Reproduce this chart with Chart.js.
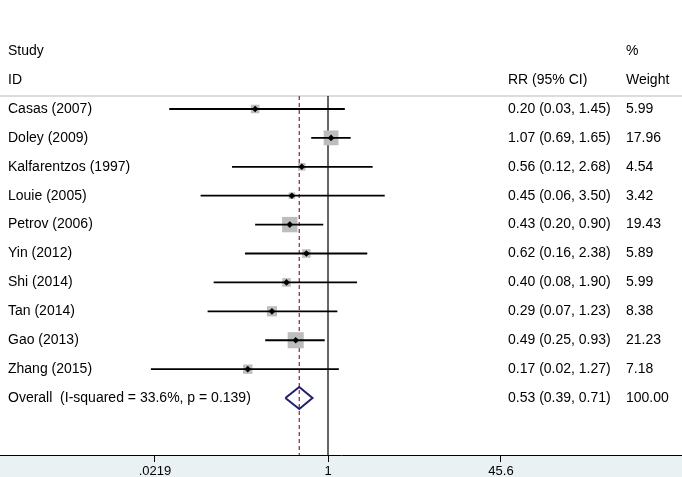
<!DOCTYPE html>
<html><head><meta charset="utf-8">
<script src="https://cdn.jsdelivr.net/npm/chart.js@4"></script>
<style>html,body{margin:0;padding:0;background:#fff;overflow:hidden}</style>
</head><body>
<canvas id="c" width="682" height="477" style="display:block;width:682px;height:477px"></canvas>
<script>
// ---- data ----
const studies = ['Casas (2007)','Doley (2009)','Kalfarentzos (1997)','Louie (2005)','Petrov (2006)','Yin (2012)','Shi (2014)','Tan (2014)','Gao (2013)','Zhang (2015)'];
const rr      = [0.20, 1.07, 0.56, 0.45, 0.43, 0.62, 0.40, 0.29, 0.49, 0.17];
const ciLow   = [0.03, 0.69, 0.12, 0.06, 0.20, 0.16, 0.08, 0.07, 0.25, 0.02];
const ciHigh  = [1.45, 1.65, 2.68, 3.50, 0.90, 2.38, 1.90, 1.23, 0.93, 1.27];
const weights = [5.99, 17.96, 4.54, 3.42, 19.43, 5.89, 5.99, 8.38, 21.23, 7.18];
const overallLabel = 'Overall  (I-squared = 33.6%, p = 0.139)';
const overallRR = 0.53, overallLow = 0.39, overallHigh = 0.71, overallWeight = 100.00;
const tickValues = [0.0219, 1, 45.6];
const tickLabels = ['.0219', '1', '45.6'];
const headerStudy  = ['Study', 'ID'];
const headerCI     = ['', 'RR (95% CI)'];
const headerWeight = ['%', 'Weight'];

// ---- layout constants ----
const X_MIN = Math.exp(-7.244), X_MAX = Math.exp(7.818);
const Y_TOP = -3.77, Y_BOTTOM = 11.97;
const SEP_ROW = -0.45;
const FONT = '"Liberation Sans", Arial, sans-serif';

const nS = studies.length;
const datasets = [];

// separator line
datasets.push({type:'line', data:[{x:X_MIN,y:SEP_ROW},{x:X_MAX,y:SEP_ROW}], borderColor:'#d0d0d0', borderWidth:1.5, pointRadius:0, order:9});
// null line x=1
datasets.push({type:'line', data:[{x:1,y:SEP_ROW},{x:1,y:Y_BOTTOM}], borderColor:'#000', borderWidth:1.2, pointRadius:0, order:8});
// overall dashed line
datasets.push({type:'line', data:[{x:overallRR,y:SEP_ROW},{x:overallRR,y:Y_BOTTOM}], borderColor:'rgb(140,35,55)', borderWidth:1.2, borderDash:[4,3], pointRadius:0, order:7});
// weight boxes
datasets.push({type:'scatter', data: rr.map((v,i)=>({x:v,y:i})), pointStyle:'rect',
  pointRadius: weights.map(w=>2.47*Math.sqrt(w)), backgroundColor:'#bdbdbd', borderWidth:0, order:6});
// CI lines
for (let i=0;i<nS;i++){
  datasets.push({type:'line', data:[{x:ciLow[i],y:i},{x:ciHigh[i],y:i}], borderColor:'#000', borderWidth:1.8, pointRadius:0, order:4});
}
// point estimates
datasets.push({type:'scatter', data: rr.map((v,i)=>({x:v,y:i})), pointStyle:'rectRot', pointRadius:3.3, backgroundColor:'#000', borderColor:'#000', borderWidth:0, order:1});
// overall diamond
const dh = 0.38;
datasets.push({type:'line', data:[{x:overallLow,y:nS},{x:overallRR,y:nS-dh},{x:overallHigh,y:nS},{x:overallRR,y:nS+dh},{x:overallLow,y:nS}],
  borderColor:'#1f1f6e', borderWidth:2, pointRadius:0, fill:false, tension:0, order:2});

const bgPlugin = {
  id:'bg',
  beforeDraw(chart){
    const {ctx, chartArea, width, height} = chart;
    ctx.save();
    ctx.fillStyle='#ffffff'; ctx.fillRect(0,0,width,height);
    ctx.fillStyle='#eaf1f3'; ctx.fillRect(0,chartArea.bottom,width,height-chartArea.bottom);
    ctx.restore();
  }
};
const textPlugin = {
  id:'forestText',
  afterDraw(chart){
    const ctx = chart.ctx, ys = chart.scales.y;
    ctx.save();
    ctx.font = '14px ' + FONT;
    ctx.fillStyle = '#000';
    ctx.textBaseline = 'middle';
    ctx.textAlign = 'left';
    const xs = 8, xc = 508, xw = 626;
    headerStudy.forEach((t,k)=>{
      const y = ys.getPixelForValue(-2+k);
      ctx.fillText(t, xs, y);
      if (headerCI[k]) ctx.fillText(headerCI[k], xc, y);
      ctx.fillText(headerWeight[k], xw, y);
    });
    const fmt = v => v.toFixed(2);
    for (let i=0;i<nS;i++){
      const y = ys.getPixelForValue(i);
      ctx.fillText(studies[i], xs, y);
      ctx.fillText(fmt(rr[i])+' ('+fmt(ciLow[i])+', '+fmt(ciHigh[i])+')', xc, y);
      ctx.fillText(fmt(weights[i]), xw, y);
    }
    const y = ys.getPixelForValue(nS);
    ctx.fillText(overallLabel, xs, y);
    ctx.fillText(fmt(overallRR)+' ('+fmt(overallLow)+', '+fmt(overallHigh)+')', xc, y);
    ctx.fillText(fmt(overallWeight), xw, y);
    ctx.restore();
  }
};

new Chart(document.getElementById('c'), {
  type:'scatter',
  data:{datasets},
  plugins:[bgPlugin, textPlugin],
  options:{
    responsive:false, animation:false, devicePixelRatio:1,
    layout:{padding:0, autoPadding:false},
    plugins:{legend:{display:false}, tooltip:{enabled:false}},
    scales:{
      x:{type:'logarithmic', position:'bottom', min:X_MIN, max:X_MAX, bounds:'data',
        afterBuildTicks: s => { s.ticks = tickValues.map(v=>({value:v})); },
        afterFit: s => { s.height = 22; },
        ticks:{autoSkip:false, maxRotation:0, padding:2, color:'#000', font:{family:FONT, size:13},
          callback:(v,idx)=>tickLabels[idx]},
        grid:{drawOnChartArea:false, drawTicks:true, tickLength:7, color:'#000', lineWidth:1},
        border:{display:true, color:'#000', width:1}
      },
      y:{type:'linear', reverse:true, min:Y_TOP, max:Y_BOTTOM, display:false}
    }
  }
});
</script>
</body></html>
